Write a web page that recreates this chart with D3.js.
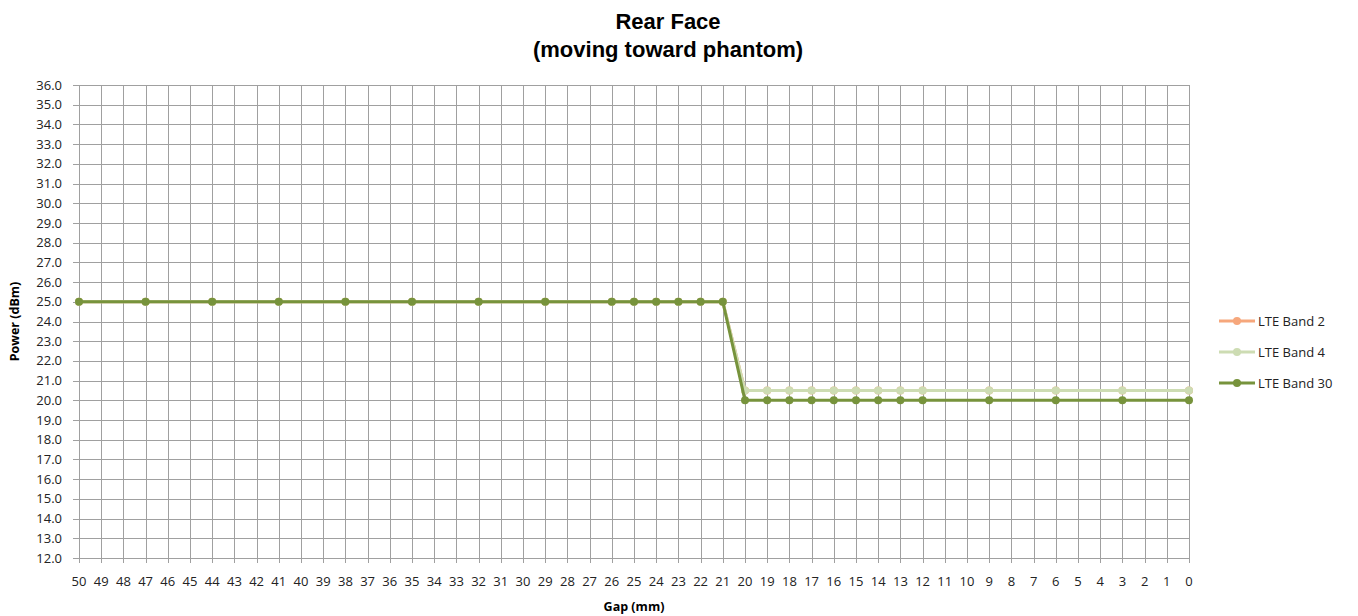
<!DOCTYPE html>
<html lang="en">
<head>
  <meta charset="UTF-8">
  <style>
    body { margin: 0; background: #fff; }
    svg { display: block; }
    .tick-label { font-family: "Open Sans", sans-serif; font-size: 13px; fill: #222; }
    .title { font-family: "Liberation Sans", Arial, sans-serif; font-size: 22px; font-weight: bold; fill: #000; text-anchor: middle; }
    .axis-title { font-family: "Open Sans", sans-serif; font-size: 12.5px; font-weight: bold; fill: #000; text-anchor: middle; }
    .legend-text { font-family: "Open Sans", sans-serif; font-size: 13px; fill: #222; }
  </style>
  <script src="https://d3js.org/d3.v7.min.js"></script>
</head>
<body>
  <svg id="chart" width="1358" height="616"></svg>
  <script>
    // x categories, gap in mm (50 down to 0)
    const gaps = d3.range(50, -1, -1);

    // measured gaps and power per band (dBm)
    const measuredGaps = [50, 47, 44, 41, 38, 35, 32, 29, 26, 25, 24, 23, 22, 21,
                          20, 19, 18, 17, 16, 15, 14, 13, 12, 9, 6, 3, 0];
    const band2  = [25, 25, 25, 25, 25, 25, 25, 25, 25, 25, 25, 25, 25, 25,
                    20.5, 20.5, 20.5, 20.5, 20.5, 20.5, 20.5, 20.5, 20.5, 20.5, 20.5, 20.5, 20.5];
    const band4  = [25, 25, 25, 25, 25, 25, 25, 25, 25, 25, 25, 25, 25, 25,
                    20.5, 20.5, 20.5, 20.5, 20.5, 20.5, 20.5, 20.5, 20.5, 20.5, 20.5, 20.5, 20.5];
    const band30 = [25, 25, 25, 25, 25, 25, 25, 25, 25, 25, 25, 25, 25, 25,
                    20, 20, 20, 20, 20, 20, 20, 20, 20, 20, 20, 20, 20];

    const seriesNames  = ["LTE Band 2", "LTE Band 4", "LTE Band 30"];
    const seriesValues = [band2, band4, band30];
    const seriesColors = ["#f6a77c", "#cddcb3", "#77933c"];

    const yTicks = d3.range(12, 36.01, 1);

    const svg = d3.select("#chart");
    const plotL = 79, plotR = 1189, plotT = 85, plotB = 558;

    const x = d3.scalePoint().domain(gaps).range([plotL, plotR]);
    const y = d3.scaleLinear().domain([12, 36]).range([plotB, plotT]);

    // grid
    const grid = svg.append("g").attr("stroke", "#a0a0a0").attr("stroke-width", 1);
    grid.selectAll(".vg").data(gaps).enter().append("line")
      .attr("x1", d => Math.round(x(d)) + 0.5).attr("x2", d => Math.round(x(d)) + 0.5)
      .attr("y1", plotT).attr("y2", plotB + 5);
    grid.selectAll(".hg").data(yTicks).enter().append("line")
      .attr("x1", plotL - 6).attr("x2", plotR)
      .attr("y1", d => Math.round(y(d)) + 0.5).attr("y2", d => Math.round(y(d)) + 0.5);

    // y tick labels
    svg.append("g").selectAll("text").data(yTicks).enter().append("text")
      .attr("class", "tick-label")
      .attr("x", 62).attr("y", d => y(d)).attr("dy", "0.35em")
      .attr("text-anchor", "end")
      .text(d => d.toFixed(1));

    // x tick labels
    svg.append("g").selectAll("text").data(gaps).enter().append("text")
      .attr("class", "tick-label")
      .attr("x", d => x(d)).attr("y", 586)
      .attr("text-anchor", "middle")
      .text(d => d);

    // titles
    svg.append("text").attr("class", "title").attr("x", 668).attr("y", 29).text("Rear Face");
    svg.append("text").attr("class", "title").attr("x", 668).attr("y", 57).text("(moving toward phantom)");
    svg.append("text").attr("class", "axis-title").attr("x", 634).attr("y", 611).text("Gap (mm)");
    svg.append("text").attr("class", "axis-title")
      .attr("transform", "translate(19," + (y(24)) + ") rotate(-90)")
      .text("Power (dBm)");

    // series
    const line = d3.line().x(d => x(d[0])).y(d => y(d[1]));
    seriesValues.forEach((vals, i) => {
      const pts = measuredGaps.map((g, j) => [g, vals[j]]);
      const g = svg.append("g");
      g.append("path").datum(pts)
        .attr("d", line).attr("fill", "none")
        .attr("stroke", seriesColors[i]).attr("stroke-width", 3)
        .attr("stroke-linejoin", "round");
      g.selectAll("circle").data(pts).enter().append("circle")
        .attr("cx", d => x(d[0])).attr("cy", d => y(d[1])).attr("r", 4)
        .attr("fill", seriesColors[i]);
    });

    // legend
    const legend = svg.append("g");
    seriesNames.forEach((name, i) => {
      const ly = 321 + i * 31;
      legend.append("line").attr("x1", 1219).attr("x2", 1255).attr("y1", ly).attr("y2", ly)
        .attr("stroke", seriesColors[i]).attr("stroke-width", 3);
      legend.append("circle").attr("cx", 1237).attr("cy", ly).attr("r", 4).attr("fill", seriesColors[i]);
      legend.append("text").attr("class", "legend-text").attr("x", 1258).attr("y", ly)
        .attr("dy", "0.35em").text(name);
    });
  </script>
</body>
</html>
